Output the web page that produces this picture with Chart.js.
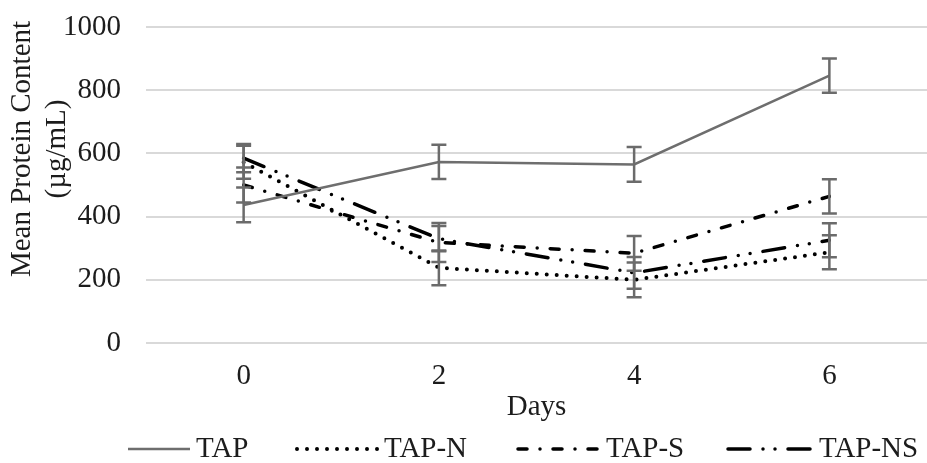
<!DOCTYPE html>
<html>
<head>
<meta charset="utf-8">
<script src="https://cdn.jsdelivr.net/npm/chart.js@4/dist/chart.umd.min.js"></script>
<style>
  html, body { margin: 0; padding: 0; background: #fff; }
  #wrap { width: 927px; height: 463px; position: relative; }
</style>
</head>
<body>
<div id="wrap"><canvas id="proteinChart"></canvas></div>
<script>
// values (µg/mL)
const days = ['0', '2', '4', '6'];
const tap = [437, 573, 565, 846];
const tapErr = [55, 54, 55, 54];
const tapN = [572, 238, 200, 287];
const tapNErr = [52, 55, 55, 54];
const tapS = [500, 318, 284, 464];
const tapSErr = [55, 62, 55, 54];
const tapNS = [585, 330, 222, 325];
const tapNSErr = [45, 40, 50, 54];
const yTicks = [0, 200, 400, 600, 800, 1000];

const serif = '"Liberation Serif", "Times New Roman", serif';
const textColor = '#1c1c1c';
const fontPx = 29;

// excel style error bars, drawn with the chart's own scales
const errorBars = {
	id: 'errorBars',
	afterDatasetsDraw(chart) {
		const ctx = chart.ctx;
		const x = chart.scales.x, y = chart.scales.y;
		ctx.save();
		ctx.strokeStyle = '#6b6b6b';
		ctx.lineWidth = 2.5;
		ctx.setLineDash([]);
		chart.data.datasets.forEach(ds => {
			ds.errors.forEach((e, j) => {
				const px = x.getPixelForValue(j);
				const hi = y.getPixelForValue(ds.data[j] + e);
				const lo = y.getPixelForValue(ds.data[j] - e);
				ctx.beginPath();
				ctx.moveTo(px, hi); ctx.lineTo(px, lo);
				ctx.moveTo(px - 7.5, hi); ctx.lineTo(px + 7.5, hi);
				ctx.moveTo(px - 7.5, lo); ctx.lineTo(px + 7.5, lo);
				ctx.stroke();
			});
		});
		ctx.restore();
	}
};

// y title sits a bit above the plot centre in the original, so draw it here
const yTitle = {
	id: 'yTitle',
	afterDraw(chart) {
		const ctx = chart.ctx;
		ctx.save();
		ctx.fillStyle = textColor;
		ctx.font = fontPx + 'px ' + serif;
		ctx.textAlign = 'center';
		ctx.textBaseline = 'middle';
		ctx.translate(22, 149);
		ctx.rotate(-Math.PI / 2);
		ctx.fillText('Mean Protein Content', 0, 0);
		ctx.fillText('(µg/mL)', 0, 35);
		ctx.restore();
	}
};

// legend with line samples (dash patterns taken from the datasets)
const lineLegend = {
	id: 'lineLegend',
	afterDraw(chart) {
		const ctx = chart.ctx;
		const starts = [128, 297, 518, 728];
		const lens = [62, 81, 82, 85];
		const y = 449;
		ctx.save();
		ctx.font = fontPx + 'px ' + serif;
		chart.data.datasets.forEach((ds, i) => {
			const x = starts[i];
			ctx.strokeStyle = ds.borderColor;
			ctx.lineWidth = ds.borderWidth;
			ctx.lineCap = ds.borderCapStyle || 'butt';
			ctx.setLineDash(ds.borderDash || []);
			ctx.beginPath();
			ctx.moveTo(x, y);
			ctx.lineTo(x + lens[i], y);
			ctx.stroke();
			ctx.setLineDash([]);
			ctx.fillStyle = textColor;
			ctx.textBaseline = 'middle';
			ctx.fillText(ds.label, x + lens[i] + 6, y);
		});
		ctx.restore();
	}
};

function setupChart() {
	Chart.defaults.font.family = serif;
	Chart.defaults.font.size = fontPx;
	Chart.defaults.color = textColor;

	const ctx = document.getElementById('proteinChart').getContext('2d');
	new Chart(ctx, {
		type: 'line',
		data: {
			labels: days,
			datasets: [
				{ label: 'TAP', data: tap, errors: tapErr, borderColor: '#6e6e6e', borderWidth: 2.5, borderCapStyle: 'butt' },
				{ label: 'TAP-N', data: tapN, errors: tapNErr, borderColor: '#000', borderWidth: 4, borderDash: [0, 10], borderCapStyle: 'round' },
				{ label: 'TAP-S', data: tapS, errors: tapSErr, borderColor: '#000', borderWidth: 3.5, borderDash: [9, 13, 0, 13], borderCapStyle: 'round' },
				{ label: 'TAP-NS', data: tapNS, errors: tapNSErr, borderColor: '#000', borderWidth: 3.5, borderDash: [22, 13, 0, 12, 0, 13], borderCapStyle: 'round' }
			]
		},
		options: {
			responsive: true,
			maintainAspectRatio: false,
			animation: false,
			elements: { point: { radius: 0, hoverRadius: 0 }, line: { tension: 0 } },
			layout: { padding: { top: 27, left: 0, right: 0, bottom: 38 } },
			plugins: {
				legend: { display: false },
				tooltip: { enabled: false },
			},
			scales: {
				x: {
					offset: true,
					grid: { display: false, drawTicks: false },
					border: { display: false },
					ticks: { padding: 16 },
					title: { display: true, text: 'Days', padding: 0 },
					afterFit: (scale) => { scale.height = 82; },
				},
				y: {
					min: 0,
					max: 1000,
					afterBuildTicks: (scale) => { scale.ticks = yTicks.map(v => ({ value: v })); },
					grid: { color: '#d9d9d9', lineWidth: 2, drawTicks: false },
					border: { display: false },
					ticks: { padding: 25, callback: (v) => String(v) },
					afterFit: (scale) => {
						scale.width = 146;
						scale.paddingTop = 0;
						scale.paddingBottom = 0;
					},
				}
			}
		},
		plugins: [errorBars, yTitle, lineLegend]
	});
}

setupChart();
</script>
</body>
</html>
